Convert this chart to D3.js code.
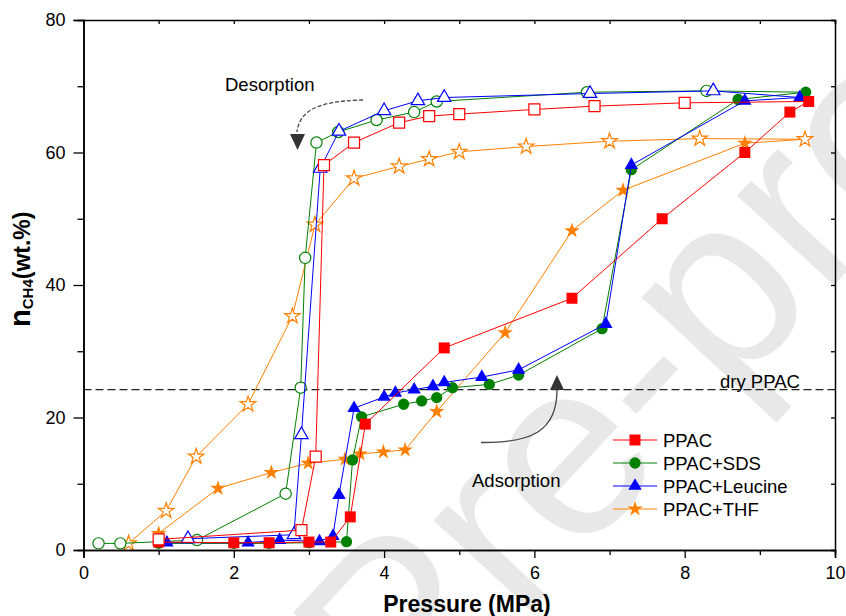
<!DOCTYPE html>
<html>
<head>
<meta charset="utf-8">
<script src="https://cdn.jsdelivr.net/npm/d3@7"></script>
<style>
  body { margin: 0; background: #fff; }
  text { font-family: "Liberation Sans", Arial, sans-serif; }
</style>
</head>
<body>
<script>
// PPAC
var ppacAdsP = [1.0, 2.0, 2.47, 3.0, 3.29, 3.55, 3.75, 4.8, 6.5, 7.7, 8.8, 9.4, 9.65];
var ppacAdsN = [1.2, 1.1, 1.1, 1.2, 1.2, 5.0, 19.0, 30.5, 38.0, 50.0, 60.0, 66.1, 67.7];
var ppacDesP = [8.0, 6.8, 6.0, 5.0, 4.6, 4.2, 3.6, 3.2, 3.09, 2.9, 1.0];
var ppacDesN = [67.5, 67.0, 66.5, 65.8, 65.5, 64.5, 61.5, 58.1, 14.1, 3.0, 1.6];
// PPAC+SDS
var sdsAdsP = [1.0, 2.0, 2.47, 3.0, 3.5, 3.58, 3.7, 4.26, 4.5, 4.7, 4.91, 5.4, 5.79, 6.9, 7.29, 8.71, 9.61];
var sdsAdsN = [1.0, 1.0, 1.0, 1.1, 1.25, 13.6, 20.1, 22.0, 22.5, 23.0, 24.5, 25.0, 26.4, 33.4, 57.4, 68.0, 69.1];
var sdsDesP = [8.29, 6.7, 4.7, 4.4, 3.9, 3.39, 3.1, 2.95, 2.89, 2.69, 1.51, 0.49, 0.2];
var sdsDesN = [69.3, 69.1, 67.7, 66.1, 64.9, 63.1, 61.5, 44.1, 24.5, 8.5, 1.5, 1.0, 1.0];
// PPAC+Leucine
var leuAdsP = [1.11, 2.19, 2.61, 3.14, 3.32, 3.4, 3.6, 4.0, 4.15, 4.4, 4.65, 4.8, 5.3, 5.79, 6.95, 7.29, 8.8, 9.53];
var leuAdsN = [1.1, 1.1, 1.5, 1.3, 2.1, 8.3, 21.4, 23.1, 23.7, 24.2, 24.7, 25.3, 26.1, 27.2, 34.1, 58.1, 67.8, 68.3];
var leuDesP = [8.38, 6.74, 4.8, 4.45, 4.0, 3.4, 3.15, 2.9, 2.8, 1.39];
var leuDesN = [69.3, 68.9, 68.3, 67.8, 66.3, 63.2, 57.6, 17.4, 2.3, 1.7];
// PPAC+THF
var thfAdsP = [1.0, 1.79, 2.5, 2.99, 3.48, 3.68, 3.99, 4.28, 4.7, 5.61, 6.5, 7.18, 8.8];
var thfAdsN = [2.5, 9.3, 11.7, 13.1, 13.7, 14.5, 14.8, 15.1, 20.9, 32.8, 48.2, 54.3, 61.4];
var thfDesP = [9.6, 8.2, 7.0, 5.89, 5.0, 4.6, 4.2, 3.6, 3.08, 2.78, 2.19, 1.5, 1.1, 0.6];
var thfDesN = [62.0, 62.1, 61.7, 60.9, 60.1, 59.0, 57.9, 56.1, 49.1, 35.3, 22.0, 14.1, 5.9, 1.0];

var seriesNames = ["PPAC", "PPAC+SDS", "PPAC+Leucine", "PPAC+THF"];
var dryPPAC = 24.2;
var xTicks = [0, 2, 4, 6, 8, 10];
var yTicks = [0, 20, 40, 60, 80];

function zip(p, n) { return p.map(function(d, i) { return [d, n[i]]; }); }

// draw order: THF at the bottom, PPAC on top
var series = [
  { name: seriesNames[3], color: "#ff8000", shape: d3.symbolStar, size: 75, ads: zip(thfAdsP, thfAdsN), des: zip(thfDesP, thfDesN) },
  { name: seriesNames[1], color: "#008000", shape: d3.symbolCircle, size: 100, ads: zip(sdsAdsP, sdsAdsN), des: zip(sdsDesP, sdsDesN) },
  { name: seriesNames[2], color: "#0000ff", shape: d3.symbolTriangle, size: 78, ads: zip(leuAdsP, leuAdsN), des: zip(leuDesP, leuDesN) },
  { name: seriesNames[0], color: "#ff0000", shape: d3.symbolSquare, size: 121, ads: zip(ppacAdsP, ppacAdsN), des: zip(ppacDesP, ppacDesN) }
];

let chart = function() {
  let w = 846, h = 616;
  let mL = 83.5, mR = 835, mT = 20, mB = 550;

  let svg = d3.select("body").append("svg")
    .attr("width", w).attr("height", h);

  let x = d3.scaleLinear().domain([0, 10]).range([mL, mR]);
  let y = d3.scaleLinear().domain([0, 80]).range([mB, mT]);

  // watermark
  svg.append("text")
    .attr("transform", "translate(405,745) rotate(-47)")
    .attr("font-size", "250px")
    .attr("fill", "#e8e8e8")
    .text("Pre-proof");

  // dry PPAC reference line
  svg.append("line")
    .attr("x1", x(0)).attr("x2", x(10))
    .attr("y1", y(dryPPAC)).attr("y2", y(dryPPAC))
    .attr("stroke", "#222").attr("stroke-width", 1.2)
    .attr("stroke-dasharray", "8,4");
  svg.append("text")
    .attr("x", 720).attr("y", 388)
    .attr("font-size", "18.5px")
    .text("dry PPAC");

  // series
  let line = d3.line().x(d => x(d[0])).y(d => y(d[1]));

  series.forEach(function(s) {
    let g = svg.append("g");
    g.append("path")
      .attr("d", line(s.ads.concat(s.des)))
      .attr("fill", "none")
      .attr("stroke", s.color)
      .attr("stroke-width", 1);
    let sym = d3.symbol().type(s.shape).size(s.size);
    g.selectAll(".ads").data(s.ads).enter().append("path")
      .attr("transform", d => "translate(" + x(d[0]) + "," + y(d[1]) + ")")
      .attr("d", sym)
      .attr("fill", s.color);
    g.selectAll(".des").data(s.des).enter().append("path")
      .attr("transform", d => "translate(" + x(d[0]) + "," + y(d[1]) + ")")
      .attr("d", sym)
      .attr("fill", "#fff")
      .attr("stroke", s.color)
      .attr("stroke-width", 1.2);
  });

  // axes
  svg.append("g")
    .attr("transform", "translate(0," + mB + ")")
    .call(d3.axisBottom(x).tickValues(xTicks).tickSize(8).tickPadding(8).tickFormat(d3.format("d")));
  svg.append("g")
    .attr("transform", "translate(0," + mB + ")")
    .call(d3.axisBottom(x).tickValues([1, 3, 5, 7, 9]).tickSize(5).tickFormat(""));
  svg.append("g")
    .attr("transform", "translate(" + mL + ",0)")
    .call(d3.axisLeft(y).tickValues(yTicks).tickSize(10).tickPadding(8).tickFormat(d3.format("d")));
  svg.append("g")
    .attr("transform", "translate(" + mL + ",0)")
    .call(d3.axisLeft(y).tickValues([10, 30, 50, 70]).tickSize(6).tickFormat(""));
  svg.append("g")
    .attr("transform", "translate(0," + mT + ")")
    .call(d3.axisBottom(x).tickValues(d3.range(0, 11)).tickSize(4).tickFormat(""));
  svg.append("g")
    .attr("transform", "translate(" + mR + ",0)")
    .call(d3.axisLeft(y).tickValues(d3.range(0, 81, 10)).tickSize(4).tickFormat(""));

  svg.selectAll(".domain").attr("stroke", "#000").attr("stroke-width", 1.5);
  svg.selectAll(".tick line").attr("stroke", "#000").attr("stroke-width", 1.3);
  svg.selectAll(".tick text")
    .attr("font-family", "'Liberation Sans', Arial, sans-serif")
    .attr("font-size", "18px").attr("fill", "#000");

  // axis titles
  svg.append("text")
    .attr("x", 467).attr("y", 612)
    .attr("text-anchor", "middle")
    .attr("font-size", "23px").attr("font-weight", "bold")
    .text("Pressure (MPa)");

  let yl = svg.append("text")
    .attr("transform", "translate(29.5,327) rotate(-90)")
    .attr("font-weight", "bold");
  yl.append("tspan").attr("font-size", "29px").text("n");
  yl.append("tspan").attr("font-size", "15px").attr("dy", 3).text("CH4");
  yl.append("tspan").attr("font-size", "23px").attr("dy", -3).text("(wt.%)");

  // annotations
  svg.append("text").attr("x", 225).attr("y", 91).attr("font-size", "18.5px").text("Desorption");
  svg.append("path")
    .attr("d", "M363,100 C330,101 300,105 297,132")
    .attr("fill", "none").attr("stroke", "#444").attr("stroke-width", 1.3)
    .attr("stroke-dasharray", "4,2");
  svg.append("path")
    .attr("d", "M290,134 L305,134 L297.5,150 Z")
    .attr("fill", "#333");

  svg.append("text").attr("x", 472).attr("y", 487).attr("font-size", "18.5px").text("Adsorption");
  svg.append("path")
    .attr("d", "M481,442.5 C530,443 557,432 557,390")
    .attr("fill", "none").attr("stroke", "#444").attr("stroke-width", 1.3);
  svg.append("path")
    .attr("d", "M550,390 L564,390 L557,375 Z")
    .attr("fill", "#333");

  // legend
  let legend = svg.append("g");
  [series[3], series[1], series[2], series[0]].forEach(function(s, i) {
    let ly = 440 + i * 23;
    legend.append("line")
      .attr("x1", 613).attr("x2", 657).attr("y1", ly).attr("y2", ly)
      .attr("stroke", s.color).attr("stroke-width", 1);
    legend.append("path")
      .attr("transform", "translate(635," + ly + ")")
      .attr("d", d3.symbol().type(s.shape).size(s.size))
      .attr("fill", s.color);
    legend.append("text")
      .attr("x", 663).attr("y", ly + 6.5)
      .attr("font-size", "18.5px")
      .text(s.name);
  });
};

chart();
</script>
</body>
</html>
